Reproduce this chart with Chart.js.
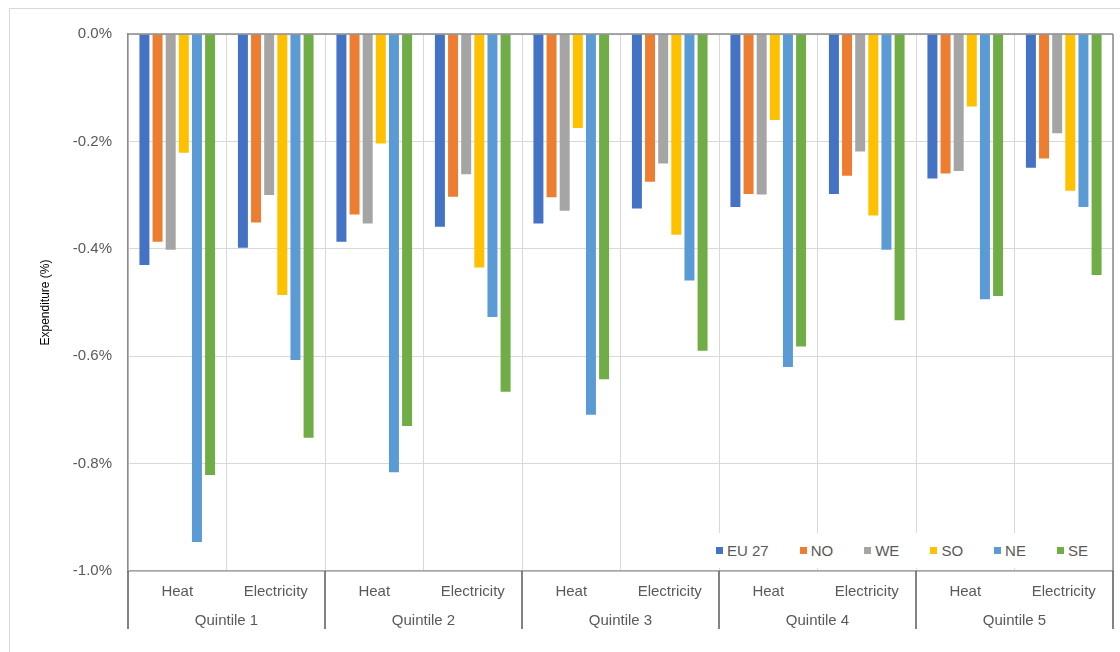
<!DOCTYPE html>
<html lang="en">

<head>
    <meta charset="UTF-8">
    <title>Expenditure by quintile</title>
    <style>
        body { margin: 0; background: #fff; font-family: "Liberation Sans", Arial, sans-serif; }
        #moldura { position: absolute; left: 9px; top: 8px; width: 1120px; height: 660px; border: 1px solid #d9d9d9; }
        #grafico { position: absolute; left: 0; top: 0; width: 1120px; height: 652px; }
        #legenda { position: absolute; left: 706px; top: 533px; width: 392px; height: 35px; padding-left: 10px; display: flex; align-items: center; font-size: 15px; color: #595959; background: #fff; }
        .item { display: flex; align-items: center; margin-right: 31px; }
        .item:last-child { margin-right: 0; }
        .item span { display: inline-block; width: 7px; height: 7px; margin-right: 4px; }
    </style>
</head>

<body>
    <div id="moldura"></div>
    <div id="grafico"><canvas id="canvasGrafico" width="1120" height="652"></canvas></div>
    <div id="legenda"></div>
</body>

</html>
<script src="https://cdn.jsdelivr.net/npm/chart.js"></script>
<script>
    const quintis = ['Quintile 1', 'Quintile 2', 'Quintile 3', 'Quintile 4', 'Quintile 5'];
    const tipos = ['Heat', 'Electricity'];
    const regioes = ['EU 27', 'NO', 'WE', 'SO', 'NE', 'SE'];
    const cores = ['#4472C4', '#ED7D31', '#A5A5A5', '#FFC000', '#5B9BD5', '#70AD47'];

    // values in %, order: Q1 Heat, Q1 Elec, Q2 Heat, ... Q5 Elec
    const eu27 = [-0.430, -0.398, -0.387, -0.359, -0.353, -0.325, -0.322, -0.298, -0.269, -0.249];
    const no = [-0.387, -0.351, -0.336, -0.303, -0.304, -0.275, -0.298, -0.264, -0.260, -0.232];
    const we = [-0.402, -0.300, -0.353, -0.261, -0.329, -0.241, -0.299, -0.219, -0.255, -0.185];
    const so = [-0.221, -0.486, -0.204, -0.435, -0.175, -0.374, -0.160, -0.338, -0.135, -0.292];
    const ne = [-0.946, -0.607, -0.816, -0.527, -0.709, -0.459, -0.620, -0.402, -0.494, -0.322];
    const se = [-0.821, -0.752, -0.730, -0.666, -0.643, -0.590, -0.582, -0.533, -0.488, -0.449];

    const series = [eu27, no, we, so, ne, se];
    const yTicks = [0, -0.2, -0.4, -0.6, -0.8, -1.0];

    let labels = [];
    for (let q = 0; q < quintis.length; q++) {
        for (let t = 0; t < tipos.length; t++) {
            labels.push(tipos[t]);
        }
    }

    let datasets = [];
    for (let i = 0; i < regioes.length; i++) {
        datasets.push({
            label: regioes[i],
            data: series[i],
            backgroundColor: cores[i],
            borderWidth: 0,
            categoryPercentage: 0.8,
            barPercentage: 0.76
        });
    }

    // legend as html
    let legenda = document.getElementById('legenda');
    for (let i = 0; i < regioes.length; i++) {
        let item = document.createElement('div');
        item.className = 'item';
        item.innerHTML = '<span style="background:' + cores[i] + '"></span>' + regioes[i];
        legenda.appendChild(item);
    }

    // top zero line, right edge and group separators below the axis
    const linhas = {
        id: 'linhas',
        afterDraw(chart) {
            const ctx = chart.ctx;
            const area = chart.chartArea;
            const x2 = chart.scales.x2;
            ctx.save();
            ctx.strokeStyle = '#8c8c8c';
            ctx.lineWidth = 1.5;
            ctx.beginPath();
            ctx.moveTo(area.left, area.top);
            ctx.lineTo(area.right, area.top);
            ctx.moveTo(area.right, area.top);
            ctx.lineTo(area.right, area.bottom);
            ctx.stroke();
            ctx.strokeStyle = '#595959';
            ctx.lineWidth = 1.5;
            ctx.beginPath();
            const metade = (x2.getPixelForTick(1) - x2.getPixelForTick(0)) / 2;
            for (let i = 0; i <= quintis.length; i++) {
                const px = Math.round(x2.getPixelForTick(0) - metade + i * metade * 2);
                ctx.moveTo(px, area.bottom);
                ctx.lineTo(px, x2.bottom - 1);
            }
            ctx.stroke();
            ctx.restore();
        }
    };

    const canvas = document.getElementById('canvasGrafico');

    new Chart(canvas, {
        type: 'bar',
        data: {
            labels,
            datasets
        },
        options: {
            responsive: false,
            animation: false,
            layout: {
                padding: { left: 0, top: 34, right: 7, bottom: 22 }
            },
            plugins: {
                legend: { display: false },
                tooltip: { enabled: false }
            },
            scales: {
                y: {
                    min: -1.0,
                    max: 0,
                    afterBuildTicks: (scale) => {
                        scale.ticks = yTicks.map(v => ({ value: v }));
                    },
                    afterFit: (scale) => { scale.width = 128; },
                    ticks: {
                        padding: 16,
                        color: '#595959',
                        font: { size: 15, family: '"Liberation Sans", Arial, sans-serif' },
                        callback: (v) => v.toFixed(1) + '%'
                    },
                    grid: { color: '#d9d9d9', drawTicks: false },
                    border: { color: '#8c8c8c', width: 1.5 },
                    title: {
                        display: true,
                        text: 'Expenditure (%)',
                        color: '#000',
                        font: { size: 12, family: '"Liberation Sans", Arial, sans-serif' },
                        padding: { top: 38, bottom: 0 }
                    }
                },
                x: {
                    weight: 0,
                    afterFit: (scale) => { scale.height = 30; },
                    ticks: {
                        padding: 12,
                        color: '#595959',
                        maxRotation: 0,
                        autoSkip: false,
                        font: { size: 15, family: '"Liberation Sans", Arial, sans-serif' }
                    },
                    grid: { color: '#d9d9d9', drawTicks: false, offset: true },
                    border: { color: '#a6a6a6', width: 1.5 }
                },
                x2: {
                    type: 'category',
                    labels: quintis,
                    position: 'bottom',
                    offset: true,
                    weight: 1,
                    afterFit: (scale) => { scale.height = 29; },
                    ticks: {
                        padding: 11,
                        color: '#595959',
                        maxRotation: 0,
                        font: { size: 15, family: '"Liberation Sans", Arial, sans-serif' }
                    },
                    grid: { display: false, drawTicks: false },
                    border: { display: false }
                }
            }
        },
        plugins: [linhas]
    });
</script>
